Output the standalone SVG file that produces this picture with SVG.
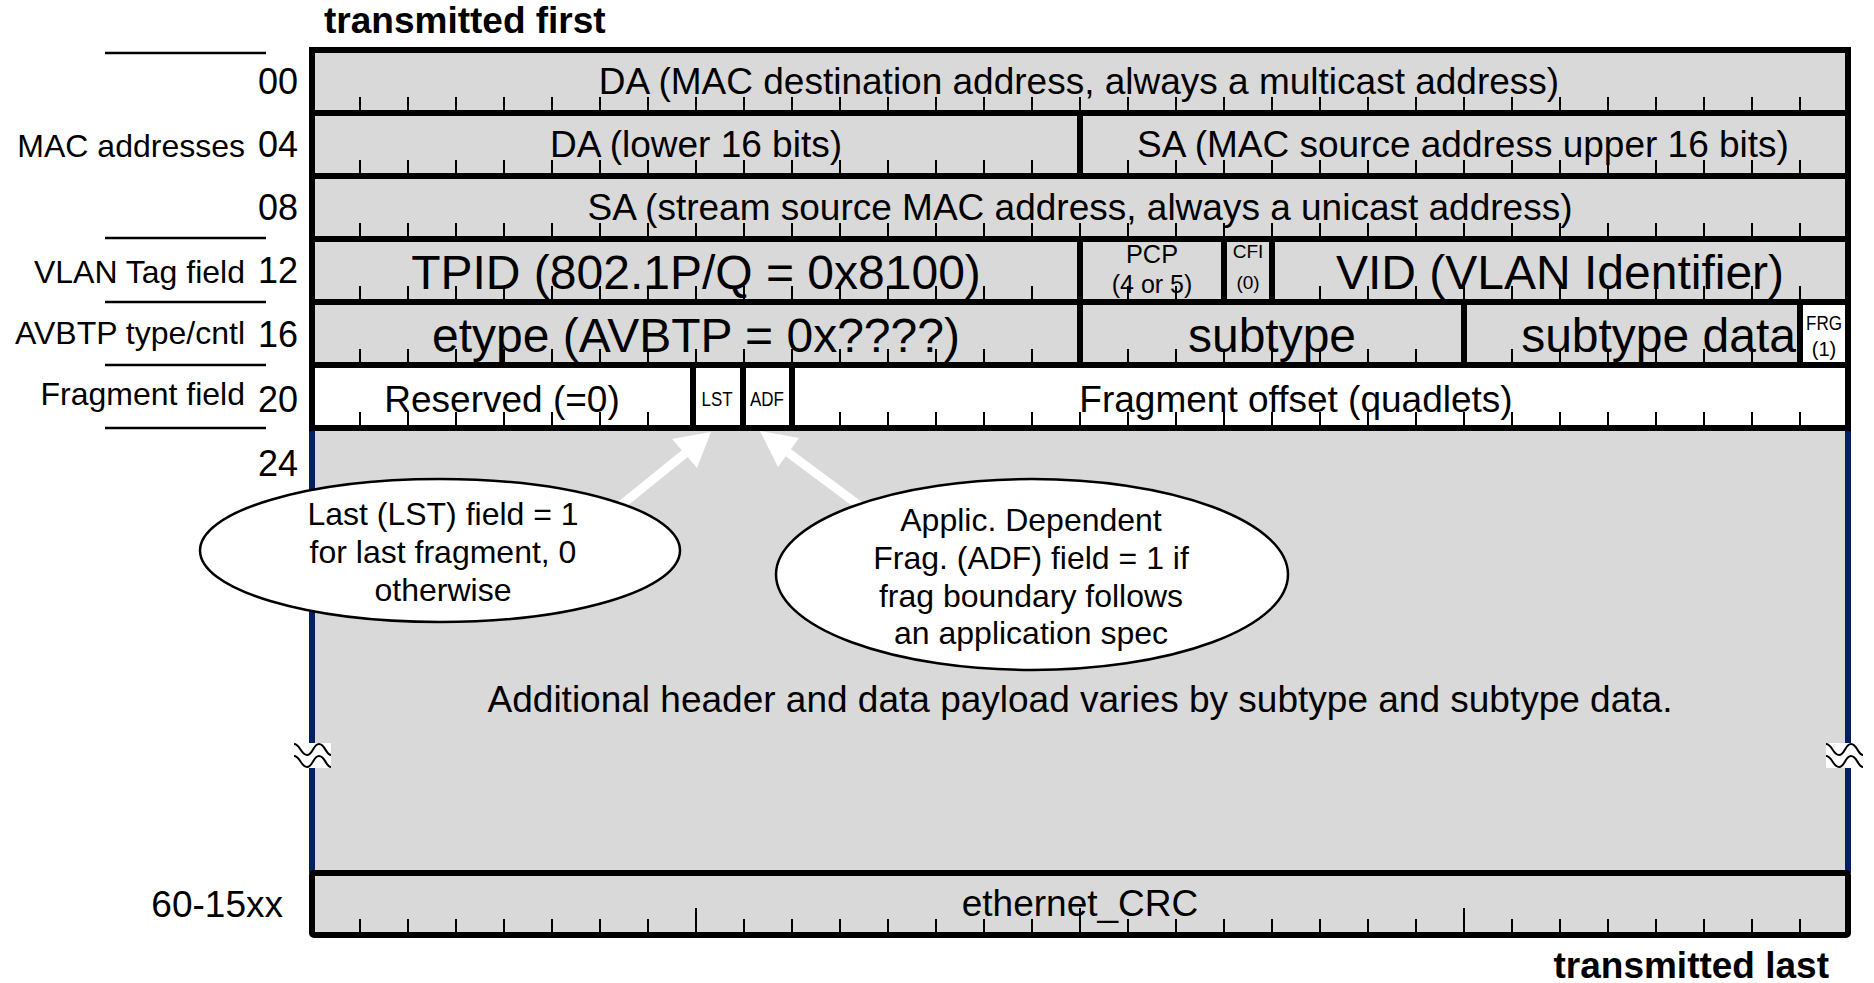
<svg xmlns="http://www.w3.org/2000/svg" xmlns:xlink="http://www.w3.org/1999/xlink" width="1874" height="983" viewBox="0 0 1874 983">
<defs>
<style>
text{font-family:"Liberation Sans",Arial,Helvetica,sans-serif;fill:#000}
.m{text-anchor:middle}
.e{text-anchor:end}
.f37{font-size:37px}
.f48{font-size:48px}
.f32{font-size:32px}
.f36{font-size:36px}
.b{font-weight:bold;font-size:37px}
.cell{fill:#d9d9d9;stroke:#000;stroke-width:6}
.wcell{fill:#fff;stroke:#000;stroke-width:6}
.tick{stroke:#000;stroke-width:2;fill:none}
.lbl{stroke:#000;stroke-width:2.5}
.arr{fill:#fff;stroke:none}
.shaft{stroke:#fff;stroke-width:9;fill:none}
.ell{fill:#fff;stroke:#000;stroke-width:2.5}
.wave{fill:none;stroke:#000;stroke-width:2}
</style>
<path id="ticks" class="tick" d="M360,0v13M408,0v13M456,0v13M504,0v13M552,0v13M600,0v13M648,0v13M696,0v13M744,0v13M792,0v13M840,0v13M888,0v13M936,0v13M984,0v13M1032,0v13M1080,0v13M1128,0v13M1176,0v13M1224,0v13M1272,0v13M1320,0v13M1368,0v13M1416,0v13M1464,0v13M1512,0v13M1560,0v13M1608,0v13M1656,0v13M1704,0v13M1752,0v13M1800,0v13"/>
<g id="brk">
<rect x="0" y="0" width="37" height="25" fill="#fff"/>
<path class="wave" d="M0,1 C6,1 7,12 13,12 C19,12 19,1 25,1 C31,1 32,12 37,12"/>
<path class="wave" d="M0,13 C6,13 7,24 13,24 C19,24 19,13 25,13 C31,13 32,24 37,24"/>
</g>
</defs>
<rect width="1874" height="983" fill="#fff"/>

<text class="b" x="324" y="33">transmitted first</text>
<text class="b e" x="1829" y="978">transmitted last</text>

<g id="labels">
<line class="lbl" x1="105" y1="53" x2="266" y2="53"/>
<line class="lbl" x1="105" y1="238" x2="266" y2="238"/>
<line class="lbl" x1="105" y1="302" x2="266" y2="302"/>
<line class="lbl" x1="105" y1="365" x2="266" y2="365"/>
<line class="lbl" x1="105" y1="428" x2="266" y2="428"/>
<text class="f32 e" x="245" y="157">MAC addresses</text>
<text class="f32 e" x="245" y="283">VLAN Tag field</text>
<text class="f32 e" x="245" y="344">AVBTP type/cntl</text>
<text class="f32 e" x="245" y="405">Fragment field</text>
<text class="f36 e" x="298" y="94">00</text>
<text class="f36 e" x="298" y="157">04</text>
<text class="f36 e" x="298" y="220">08</text>
<text class="f36 e" x="298" y="283">12</text>
<text class="f36 e" x="298" y="347">16</text>
<text class="f36 e" x="298" y="412">20</text>
<text class="f36 e" x="298" y="476">24</text>
<text class="f37 e" x="283" y="917">60-15xx</text>
</g>

<g id="payload">
<rect x="312" y="428" width="1536" height="445" fill="#d9d9d9"/>
<line x1="312" y1="428" x2="312" y2="873" stroke="#002060" stroke-width="6"/>
<line x1="1848" y1="428" x2="1848" y2="873" stroke="#002060" stroke-width="6"/>
<text class="f37 m" x="1080" y="712">Additional header and data payload varies by subtype and subtype data.</text>
<use xlink:href="#brk" x="294" y="743"/>
<use xlink:href="#brk" x="1826" y="743"/>
</g>

<g id="da">
<rect class="cell" x="312" y="50" width="1536" height="63"/>
<text class="f37 m" x="1079" y="94">DA (MAC destination address, always a multicast address)</text>
</g>
<g id="da-lower">
<rect class="cell" x="312" y="113" width="768" height="63"/>
<text class="f37 m" x="696" y="157">DA (lower 16 bits)</text>
</g>
<g id="sa-upper">
<rect class="cell" x="1080" y="113" width="768" height="63"/>
<text class="f37 m" x="1463" y="157">SA (MAC source address upper 16 bits)</text>
</g>
<g id="sa">
<rect class="cell" x="312" y="176" width="1536" height="63"/>
<text class="f37 m" x="1080" y="220">SA (stream source MAC address, always a unicast address)</text>
</g>

<g id="tpid">
<rect class="cell" x="312" y="239" width="768" height="63"/>
<text class="f48 m" x="696" y="289">TPID (802.1P/Q = 0x8100)</text>
</g>
<g id="pcp">
<rect class="cell" x="1080" y="239" width="144" height="63"/>
<text class="m" x="1152" y="263" font-size="25" textLength="52" lengthAdjust="spacingAndGlyphs">PCP</text>
<text class="m" x="1152" y="293" font-size="25">(4 or 5)</text>
</g>
<g id="cfi">
<rect class="cell" x="1224" y="239" width="48" height="63"/>
<text class="m" x="1248" y="258" font-size="19">CFI</text>
<text class="m" x="1248" y="289" font-size="19">(0)</text>
</g>
<g id="vid">
<rect class="cell" x="1272" y="239" width="576" height="63"/>
<text class="f48 m" x="1560" y="289">VID (VLAN Identifier)</text>
</g>

<g id="etype">
<rect class="cell" x="312" y="302" width="768" height="63"/>
<text class="f48 m" x="696" y="352">etype (AVBTP = 0x????)</text>
</g>
<g id="subtype">
<rect class="cell" x="1080" y="302" width="384" height="63"/>
<text class="f48 m" x="1272" y="352">subtype</text>
</g>
<g id="subtype-data">
<rect class="cell" x="1464" y="302" width="336" height="63"/>
<text class="f48 e" x="1796" y="352">subtype data</text>
</g>

<g id="row-ticks">
<use xlink:href="#ticks" y="97"/>
<use xlink:href="#ticks" y="160"/>
<use xlink:href="#ticks" y="223"/>
<use xlink:href="#ticks" y="286"/>
<use xlink:href="#ticks" y="349"/>
</g>

<g id="frg">
<rect class="wcell" x="1800" y="302" width="48" height="63"/>
<text class="m" x="1824" y="330" font-size="20" textLength="36" lengthAdjust="spacingAndGlyphs">FRG</text>
<text class="m" x="1824" y="356" font-size="20">(1)</text>
</g>

<g id="reserved">
<rect class="wcell" x="312" y="365" width="381" height="63"/>
<path class="tick" d="M360,412v13M408,412v13M456,412v13M504,412v13M552,412v13M600,412v13M648,412v13"/>
<text class="f37 m" x="502" y="412">Reserved (=0)</text>
</g>
<g id="lst">
<rect class="wcell" x="693" y="365" width="50" height="63"/>
<text class="m" x="717" y="406" font-size="20" textLength="31" lengthAdjust="spacingAndGlyphs">LST</text>
</g>
<g id="adf">
<rect class="wcell" x="743" y="365" width="49" height="63"/>
<text class="m" x="767" y="406" font-size="20" textLength="34" lengthAdjust="spacingAndGlyphs">ADF</text>
</g>
<g id="frag-offset">
<rect class="wcell" x="792" y="365" width="1056" height="63"/>
<path class="tick" d="M840,412v13M888,412v13M936,412v13M984,412v13M1032,412v13M1080,412v13M1128,412v13M1176,412v13M1224,412v13M1272,412v13M1320,412v13M1368,412v13M1416,412v13M1464,412v13M1512,412v13M1560,412v13M1608,412v13M1656,412v13M1704,412v13M1752,412v13M1800,412v13"/>
<text class="f37 m" x="1296" y="412">Fragment offset (quadlets)</text>
</g>

<g id="crc">
<rect class="cell" x="312" y="873" width="1536" height="62" rx="2"/>
<use xlink:href="#ticks" y="919"/>
<path class="tick" d="M696,908v24M1080,908v24M1464,908v24"/>
<text class="f37 m" x="1080" y="916">ethernet_CRC</text>
</g>

<g id="connectors">
<line class="shaft" x1="599" y1="523" x2="688" y2="451"/>
<polygon class="arr" points="711,432 672,439 697,468"/>
<line class="shaft" x1="880" y1="521" x2="786" y2="451"/>
<polygon class="arr" points="760,431 799,438 778,467"/>
</g>

<g id="note-lst">
<ellipse class="ell" cx="440" cy="550.5" rx="240" ry="71.5"/>
<text class="f32 m" x="443" y="525">Last (LST) field = 1</text>
<text class="f32 m" x="443" y="563">for last fragment, 0</text>
<text class="f32 m" x="443" y="601">otherwise</text>
</g>
<g id="note-adf">
<ellipse class="ell" cx="1032" cy="574.5" rx="256" ry="95.5"/>
<text class="f32 m" x="1031" y="531">Applic. Dependent</text>
<text class="f32 m" x="1031" y="569">Frag. (ADF) field = 1 if</text>
<text class="f32 m" x="1031" y="607">frag boundary follows</text>
<text class="f32 m" x="1031" y="644">an application spec</text>
</g>
</svg>
